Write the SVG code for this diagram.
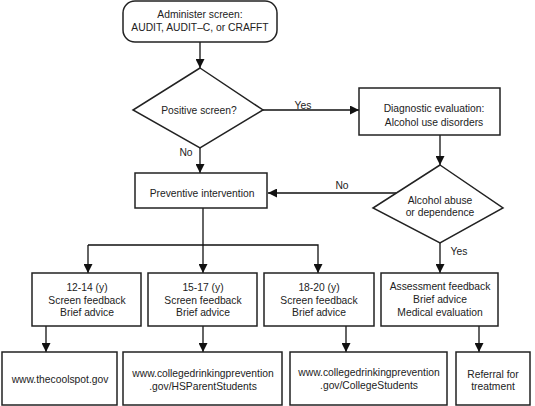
<svg xmlns="http://www.w3.org/2000/svg" width="535" height="406" viewBox="0 0 535 406">
<defs>
<marker id="ah" markerUnits="userSpaceOnUse" markerWidth="9" markerHeight="9" refX="9" refY="4.5" orient="auto">
<path d="M0,0 L9,4.5 L0,9 z" fill="#111"/>
</marker>
<style>
.box{fill:#fff;stroke:#222;stroke-width:1.5}
.t{font-family:"Liberation Sans",Arial,sans-serif;font-size:10.3px;fill:#222;text-anchor:middle}
.c{fill:none;stroke:#111;stroke-width:1.3}
</style>
</defs>
<rect width="535" height="406" fill="#fff"/>
<g id="connectors">
<line class="c" x1="200" y1="42" x2="200" y2="68" marker-end="url(#ah)"/>
<line class="c" x1="263" y1="110" x2="359" y2="110" marker-end="url(#ah)"/>
<line class="c" x1="200" y1="148" x2="200" y2="173" marker-end="url(#ah)"/>
<line class="c" x1="440" y1="135" x2="440" y2="165" marker-end="url(#ah)"/>
<line class="c" x1="396" y1="193" x2="268" y2="193" marker-end="url(#ah)"/>
<line class="c" x1="440" y1="243" x2="440" y2="273" marker-end="url(#ah)"/>
<line class="c" x1="203" y1="208" x2="203" y2="273" marker-end="url(#ah)"/>
<polyline class="c" points="88,245 318,245 318,273" marker-end="url(#ah)"/>
<line class="c" x1="88" y1="245" x2="88" y2="273" marker-end="url(#ah)"/>
<line class="c" x1="46" y1="326" x2="46" y2="352" marker-end="url(#ah)"/>
<line class="c" x1="203" y1="326" x2="203" y2="352" marker-end="url(#ah)"/>
<line class="c" x1="346" y1="326" x2="346" y2="352" marker-end="url(#ah)"/>
<line class="c" x1="479" y1="326" x2="479" y2="352" marker-end="url(#ah)"/>
<text class="t" x="303" y="109">Yes</text>
<text class="t" x="186" y="156">No</text>
<text class="t" x="342" y="189">No</text>
<text class="t" x="459" y="255">Yes</text>
</g>
<g id="administer">
<rect class="box" x="123" y="1" width="154" height="41" rx="12"/>
<text class="t" x="200" y="18">Administer screen:</text>
<text class="t" x="200" y="31">AUDIT, AUDIT–C, or CRAFFT</text>
</g>
<g id="positive">
<polygon class="box" points="200,68 263,110 200,148 133,110"/>
<text class="t" x="199" y="114">Positive screen?</text>
</g>
<g id="diagnostic">
<rect class="box" x="359" y="88" width="141" height="47"/>
<text class="t" x="434" y="112">Diagnostic evaluation:</text>
<text class="t" x="434" y="126">Alcohol use disorders</text>
</g>
<g id="preventive">
<rect class="box" x="135" y="173" width="132" height="35"/>
<text class="t" x="202" y="197">Preventive intervention</text>
</g>
<g id="alcohol">
<polygon class="box" points="440,165 503,208 440,243 373,208"/>
<text class="t" x="440" y="204">Alcohol abuse</text>
<text class="t" x="440" y="216">or dependence</text>
</g>
<g id="age12">
<rect class="box" x="32" y="273" width="109" height="53"/>
<text class="t" x="87" y="291">12-14 (y)</text>
<text class="t" x="87" y="303.5">Screen feedback</text>
<text class="t" x="87" y="316">Brief advice</text>
</g>
<g id="age15">
<rect class="box" x="148" y="273" width="109" height="53"/>
<text class="t" x="203" y="291">15-17 (y)</text>
<text class="t" x="203" y="303.5">Screen feedback</text>
<text class="t" x="203" y="316">Brief advice</text>
</g>
<g id="age18">
<rect class="box" x="264" y="273" width="110" height="53"/>
<text class="t" x="319" y="291">18-20 (y)</text>
<text class="t" x="319" y="303.5">Screen feedback</text>
<text class="t" x="319" y="316">Brief advice</text>
</g>
<g id="assessment">
<rect class="box" x="381" y="273" width="117" height="53"/>
<text class="t" x="440" y="290">Assessment feedback</text>
<text class="t" x="440" y="303">Brief advice</text>
<text class="t" x="440" y="316">Medical evaluation</text>
</g>
<g id="coolspot">
<rect class="box" x="2" y="352" width="115" height="53"/>
<text class="t" x="60" y="383">www.thecoolspot.gov</text>
</g>
<g id="hsparent">
<rect class="box" x="123" y="352" width="159" height="53"/>
<text class="t" x="203" y="377">www.collegedrinkingprevention</text>
<text class="t" x="203" y="390">.gov/HSParentStudents</text>
</g>
<g id="college">
<rect class="box" x="290" y="352" width="157" height="53"/>
<text class="t" x="369" y="376">www.collegedrinkingprevention</text>
<text class="t" x="369" y="389">.gov/CollegeStudents</text>
</g>
<g id="referral">
<rect class="box" x="456" y="352" width="74" height="53"/>
<text class="t" x="493" y="378">Referral for</text>
<text class="t" x="493" y="390">treatment</text>
</g>
</svg>
